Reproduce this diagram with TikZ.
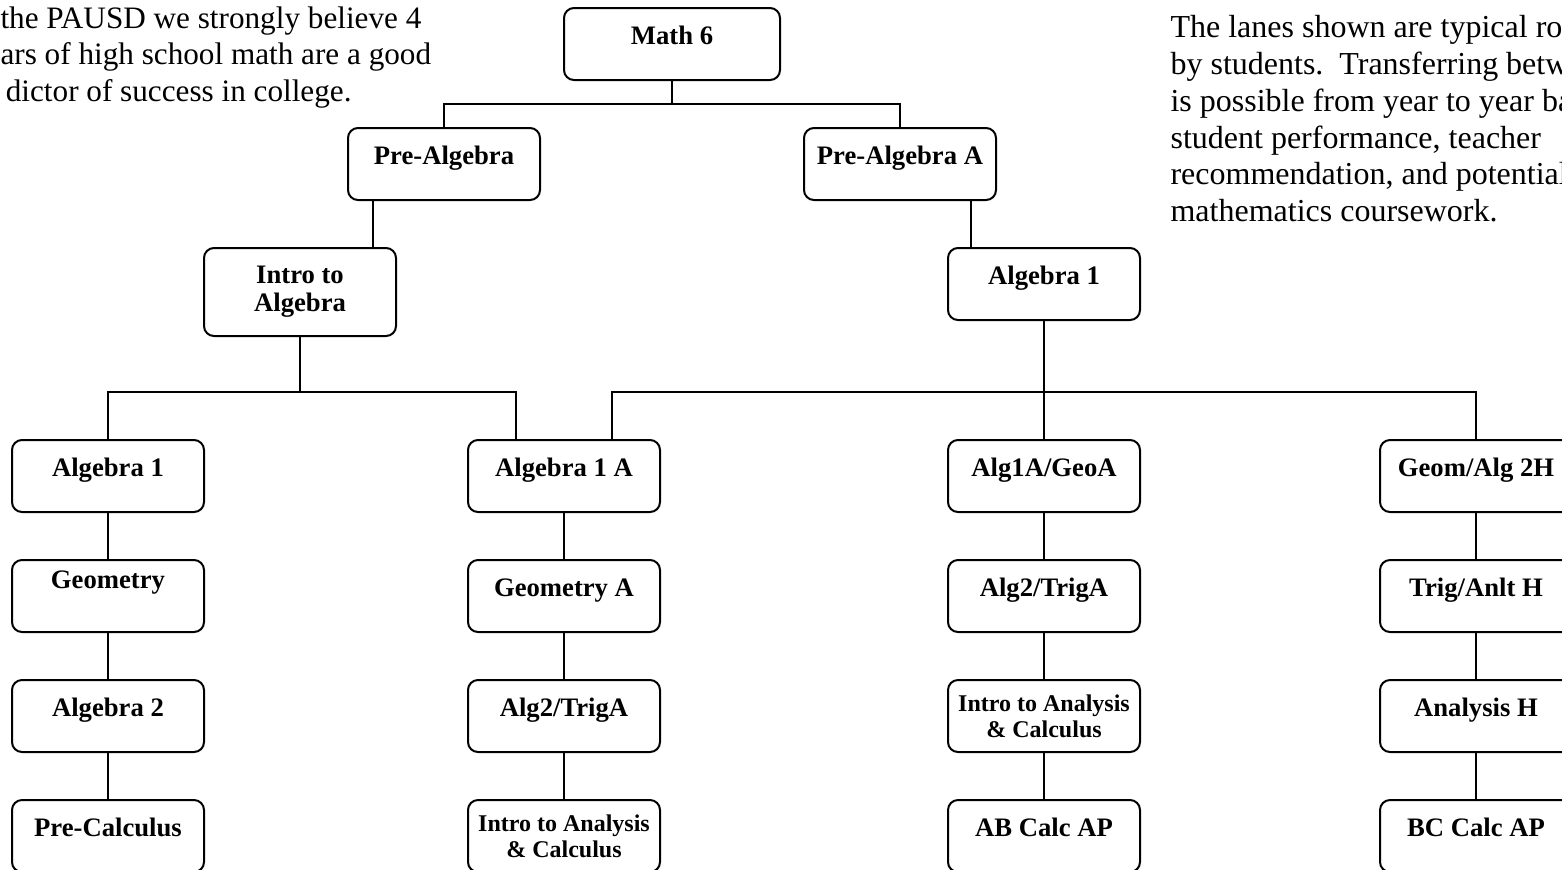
\documentclass[tikz,border=0pt]{standalone}
\usepackage{fontspec}
\setmainfont{Liberation Serif}
\usetikzlibrary{calc}
\usetikzlibrary{positioning}

\tikzset{
  box/.style={draw, rounded corners=3.75pt, line width=0.75pt, minimum width=72pt,
    minimum height=27pt, inner sep=0pt, font=\fontsize{10}{10.5}\selectfont\bfseries},
  course/.style={box, text height=8pt, text depth=8pt},
  coursetwo/.style={box, align=center},
  small/.style={font=\fontsize{9}{9.75}\selectfont\bfseries},
  high/.style={text depth=14pt},
  link/.style={line width=0.75pt},
  note/.style={align=left, inner sep=0pt, font=\fontsize{12}{13.8}\selectfont}
}

\begin{document}
\begin{tikzpicture}[x=0.375pt, y=-0.375pt]
            \useasboundingbox (0,0) rectangle (1562,869);
            \clip (0,0) rectangle (1562,869);

            % Notes
            \node[note, anchor=north west, font=\fontsize{11.7}{13.7}\selectfont] (pausd) at (0,6) {the PAUSD we strongly believe 4\\ars of high school math are a good\\\hspace*{2pt}dictor of success in college.};
            \node[note, anchor=north west] (lanes) at (1170,15) {The lanes shown are typical ro\\by students.\ \ Transferring betw\\is possible from year to year ba\\student performance, teacher\\recommendation, and potential\\mathematics coursework.};

            % Middle school
            \node[course, minimum width=81pt] (math6) at (672,44) {Math 6};
            \node[course] (prealg) at (444,164) {Pre-Algebra};
            \node[course] (prealga) at (900,164) {Pre-Algebra A};
            \node[coursetwo, minimum height=33pt] (introalg) at (300,292) {Intro to\\Algebra};
            \node[course] (alg1) at (1044,284) {Algebra 1};

            % Lane 1
            \node[course] (alga) at (108,476) {Algebra 1};
            \node[course, high] (geo) at (108,596) {Geometry};
            \node[course] (algb) at (108,716) {Algebra 2};
            \node[course] (precalc) at (108,836) {Pre-Calculus};

            % Lane 2
            \node[course] (algaa) at (564,476) {Algebra 1 A};
            \node[course] (geoa) at (564,596) {Geometry A};
            \node[course] (trigaa) at (564,716) {Alg2/TrigA};
            \node[coursetwo, small] (introa) at (564,836) {Intro to Analysis\\\& Calculus};

            % Lane 3
            \node[course] (alggeoa) at (1044,476) {Alg1A/GeoA};
            \node[course] (trigab) at (1044,596) {Alg2/TrigA};
            \node[coursetwo, small] (introb) at (1044,716) {Intro to Analysis\\\& Calculus};
            \node[course] (abcalc) at (1044,836) {AB Calc AP};

            % Lane 4
            \node[course] (geomh) at (1476,476) {Geom/Alg 2H};
            \node[course] (trigh) at (1476,596) {Trig/Anlt H};
            \node[course] (anh) at (1476,716) {Analysis H};
            \node[course] (bccalc) at (1476,836) {BC Calc AP};

            % Splits
            \coordinate (fork1) at (672,104);
            \coordinate (fork2) at (300,392);
            \coordinate (fork3) at (1044,392);
            \draw[link] (math6.south) -- (fork1);
            \draw[link] (prealg.north) |- (fork1) -| (prealga.north);
            \draw[link] ([xshift=-9pt]introalg.north east) -- ([xshift=-9pt]introalg.north east |- prealg.south);
            \draw[link] ([xshift=9pt]alg1.north west) -- ([xshift=9pt]alg1.north west |- prealga.south);
            \draw[link] (introalg.south) -- (fork2);
            \draw[link] (alga.north) |- (fork2) -| ([xshift=-18pt]algaa.north);
            \draw[link] (alg1.south) -- (alggeoa.north);
            \draw[link] ([xshift=18pt]algaa.north) |- (fork3) -| (geomh.north);

            % Lanes
            \foreach \a/\b in {alga/geo, geo/algb, algb/precalc, algaa/geoa, geoa/trigaa, trigaa/introa,
                alggeoa/trigab, trigab/introb, introb/abcalc, geomh/trigh, trigh/anh, anh/bccalc}
                \draw[link] (\a.south) -- (\b.north);
        \end{tikzpicture}
\end{document}
